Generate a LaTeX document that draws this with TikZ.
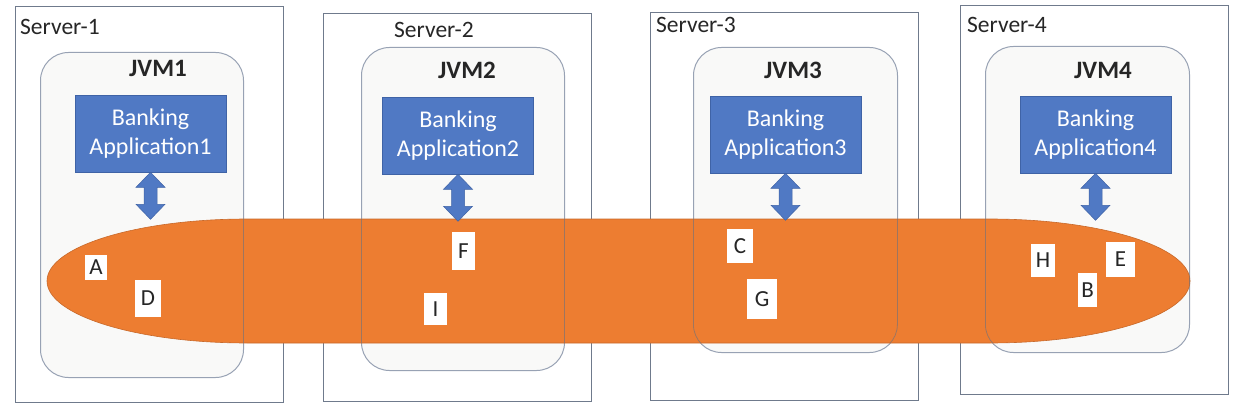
\documentclass[tikz,border=0pt]{standalone}
\usepackage{fontspec}
\setmainfont{Carlito}
\definecolor{srvline}{HTML}{6F7A8C}
\definecolor{jvmline}{HTML}{98A2B4}
\definecolor{jvmfill}{HTML}{F9F9F8}
\definecolor{orng}{HTML}{ED7D31}
\definecolor{orngdark}{HTML}{C8692A}
\definecolor{appblue}{HTML}{5079C4}
\definecolor{appbluedark}{HTML}{3F63A6}
\newcommand{\biarrow}[1]{%
  \draw[arrowfill] (#1.south) -- ++(14.5pt,-15pt) -- ++(-8pt,0) -- ++(0,-17pt) -- ++(8pt,0)
    -- ++(-14.5pt,-15pt) -- ++(-14.5pt,15pt) -- ++(8pt,0) -- ++(0,17pt) -- ++(-8pt,0) -- cycle;}
\begin{document}
\begin{tikzpicture}[x=1pt,y=1pt,
  server/.style={draw=srvline, line width=0.9pt, fill=white, anchor=north west, inner sep=0pt},
  jvm/.style={draw=jvmline, line width=1pt, fill=jvmfill, rounded corners=28pt, anchor=north west, inner sep=0pt},
  jvmedge/.style={draw=jvmline!70!black, line width=0.8pt, rounded corners=28pt, anchor=north west, inner sep=0pt, draw opacity=0.6},
  srvlabel/.style={font=\fontsize{23.5}{27}\selectfont, anchor=west, inner sep=0pt, text=black!85},
  jvmlabel/.style={font=\fontsize{25}{29}\selectfont\bfseries, inner sep=0pt, text=black!85},
  app/.style={fill=appblue, draw=appbluedark, line width=0.6pt, text=white, align=center,
    font=\fontsize{24}{29}\selectfont, minimum width=151pt, minimum height=77pt, inner sep=0pt},
  arrowfill/.style={fill=appblue, draw=appbluedark, line width=0.5pt},
  cache/.style={fill=orng, draw=orngdark, line width=0.6pt},
  letter/.style={fill=white, inner sep=0pt, font=\fontsize{23}{27}\selectfont, text=black!85}
]
\useasboundingbox (0,0) rectangle (1235,-409);
\fill[white] (0,0) rectangle (1235,-409);
% servers
\node[server, minimum width=268pt, minimum height=396pt] (s1) at (15,-6) {};
\node[server, minimum width=268pt, minimum height=388pt] (s2) at (323,-13) {};
\node[server, minimum width=268pt, minimum height=388pt] (s3) at (650,-12) {};
\node[server, minimum width=268pt, minimum height=389pt] (s4) at (960,-5) {};
\node[srvlabel] (s1l) at (20,-27) {Server-1};
\node[srvlabel] (s2l) at (394,-30) {Server-2};
\node[srvlabel] (s3l) at (656,-25) {Server-3};
\node[srvlabel] (s4l) at (967,-25) {Server-4};
% JVMs
\node[jvm, minimum width=203pt, minimum height=325pt] (j1) at (40,-52) {};
\node[jvm, minimum width=203pt, minimum height=323pt] (j2) at (361,-47) {};
\node[jvm, minimum width=204pt, minimum height=305pt] (j3) at (693,-47) {};
\node[jvm, minimum width=204pt, minimum height=306pt] (j4) at (985,-46) {};
\node[jvmlabel] (j1l) at (158,-68) {JVM1};
\node[jvmlabel] (j2l) at (467,-70) {JVM2};
\node[jvmlabel] (j3l) at (793,-70) {JVM3};
\node[jvmlabel] (j4l) at (1103,-70) {JVM4};
% applications
\node[app] (b1) at (150.5,-133.5) {Banking\\Application1};
\node[app] (b2) at (458,-135.5) {Banking\\Application2};
\node[app] (b3) at (785.5,-134.5) {Banking\\Application3};
\node[app] (b4) at (1095.5,-134.5) {Banking\\Application4};
% cache band
\path[cache] (247,-219) -- (990,-219)
  arc[start angle=90, end angle=-90, x radius=200pt, y radius=62pt]
  -- (247,-343)
  arc[start angle=270, end angle=90, x radius=200pt, y radius=62pt] -- cycle;
% JVM edges seen through the band
\begin{scope}
\clip (247,-219) -- (990,-219)
  arc[start angle=90, end angle=-90, x radius=200pt, y radius=62pt]
  -- (247,-343)
  arc[start angle=270, end angle=90, x radius=200pt, y radius=62pt] -- cycle;
\node[jvmedge, minimum width=203pt, minimum height=325pt] (e1) at (40,-52) {};
\node[jvmedge, minimum width=203pt, minimum height=323pt] (e2) at (361,-47) {};
\node[jvmedge, minimum width=204pt, minimum height=305pt] (e3) at (693,-47) {};
\node[jvmedge, minimum width=204pt, minimum height=306pt] (e4) at (985,-46) {};
\end{scope}
% arrows
\biarrow{b1}
\biarrow{b2}
\biarrow{b3}
\biarrow{b4}
% objects
\node[letter, minimum width=22pt, minimum height=25pt] (A) at (96,-267.5) {A};
\node[letter, minimum width=26pt, minimum height=37pt] (D) at (148,-298.5) {D};
\node[letter, minimum width=23pt, minimum height=38pt] (F) at (463.5,-251) {F};
\node[letter, minimum width=23pt, minimum height=32pt] (I) at (435.5,-309) {I};
\node[letter, minimum width=26pt, minimum height=34pt] (C) at (740,-246) {C};
\node[letter, minimum width=30pt, minimum height=40pt] (G) at (762,-299) {G};
\node[letter, minimum width=24pt, minimum height=33pt] (H) at (1043,-260.5) {H};
\node[letter, minimum width=29pt, minimum height=35pt] (E) at (1120.5,-259.5) {E};
\node[letter, minimum width=19pt, minimum height=34pt] (B) at (1087.5,-290) {B};
\end{tikzpicture}
\end{document}
